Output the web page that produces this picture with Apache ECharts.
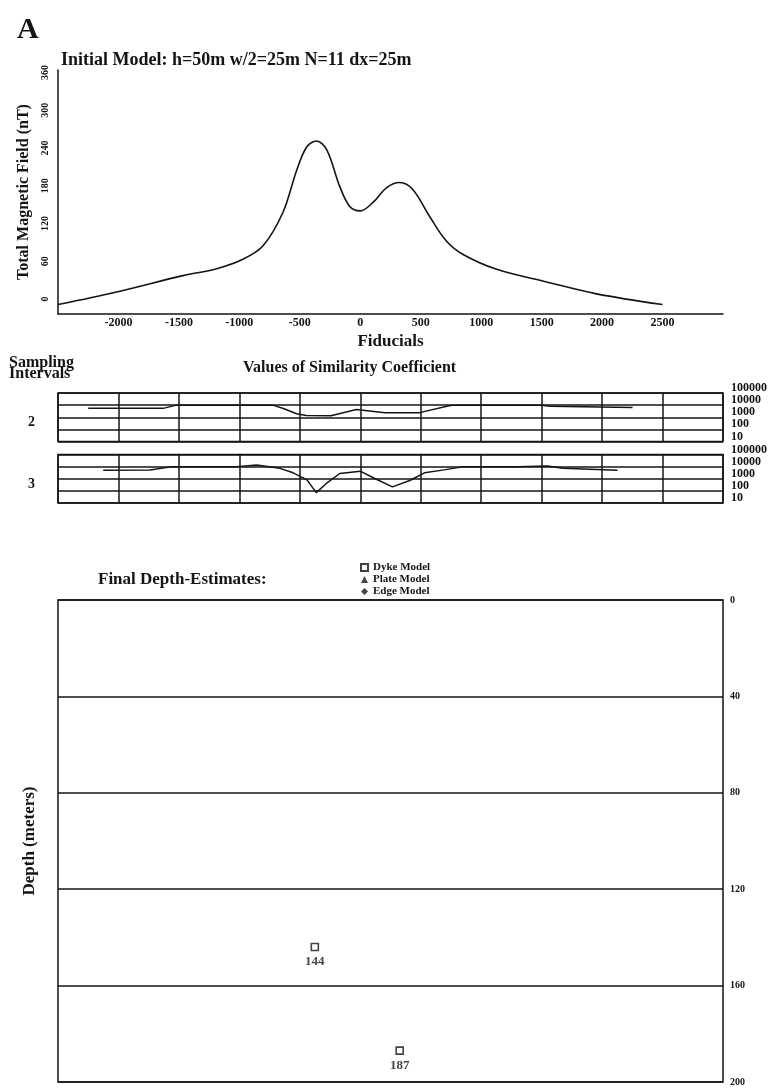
<!DOCTYPE html>
<html>
<head>
<meta charset="utf-8">
<script src="https://cdn.jsdelivr.net/npm/echarts@6/dist/echarts.min.js"></script>
<style>
html,body{margin:0;padding:0;background:#fff;}
#chart{width:775px;height:1090px;}
</style>
</head>
<body>
<div id="chart"></div>
<script>
// ---------- data ----------
const fiducialTicks = [-2000, -1500, -1000, -500, 0, 500, 1000, 1500, 2000, 2500];
const fieldTicks = [0, 60, 120, 180, 240, 300, 360];
const depthTicks = [0, 40, 80, 120, 160, 200];
const samplingIntervals = ['2', '3'];

// Initial model profile (Total Magnetic Field, nT)
const profileFiducials = [-2500, -2015, -1467, -1188, -971, -806, -641, -525, -442, -362, -277, -170, -87, 0, 103, 219, 326, 434, 574, 712, 847, 1128, 1541, 1954, 2500];
const profileField     = [-9, 11, 37, 48, 63, 84, 137, 205, 242, 251, 237, 179, 147, 140, 153, 177, 185, 174, 131, 92, 71, 47, 27, 8, -9];

// Similarity coefficient, sampling interval 2
const interval2Fiducials  = [-2250, -1630, -1520, -723, -630, -527, -445, -242, -32, 205, 491, 734, 781, 1483, 1570, 2252];
const interval2Similarity = [5400, 5400, 10000, 10000, 5000, 1950, 1400, 1350, 4400, 2400, 2400, 8900, 10000, 10000, 8000, 6500];

// Similarity coefficient, sampling interval 3
const interval3Fiducials  = [-2126, -1740, -1550, -1023, -858, -664, -555, -441, -364, -283, -170, 0, 124, 266, 409, 531, 693, 856, 1303, 1550, 1674, 2128];
const interval3Similarity = [5100, 5200, 10000, 10000, 13800, 7200, 3100, 800, 72, 390, 2700, 4200, 1000, 215, 720, 3100, 5400, 10000, 10000, 11500, 7200, 5100];

// Final depth estimates (Dyke model)
const depthFiducials = [-376, 326];
const depthEstimates = [144, 187];

// ---------- helpers ----------
const zip = (xs, ys) => xs.map((x, i) => [x, ys[i]]);
const INK = '#141414';
const FONT = 'Liberation Serif';
const plain = v => String(Math.round(v));

const chart = echarts.init(document.getElementById('chart'), null, {renderer: 'canvas'});

const xBase = {
  type: 'value', min: -2500, max: 3000, interval: 500
};

const simLabel = {
  margin: 8, showMinLabel: true, showMaxLabel: true,
  fontFamily: FONT, fontWeight: 'bold', fontSize: 12, lineHeight: 10, color: INK,
  verticalAlign: 'bottom', formatter: plain
};

const option = {
  animation: false,
  backgroundColor: '#ffffff',
  textStyle: {fontFamily: FONT, fontWeight: 'bold', color: INK},
  title: [
    {text: 'A', left: 12, top: 10, textStyle: {fontFamily: FONT, fontWeight: 'bold', fontSize: 30, color: INK}},
    {text: 'Initial Model: h=50m w/2=25m N=11 dx=25m', left: 56, top: 46, textStyle: {fontFamily: FONT, fontWeight: 'bold', fontSize: 18, color: INK}},
    {text: 'Sampling\nIntervals', left: 4, top: 352, textStyle: {fontFamily: FONT, fontWeight: 'bold', fontSize: 16, lineHeight: 11, color: INK}},
    {text: 'Values of Similarity Coefficient', left: 238, top: 355, textStyle: {fontFamily: FONT, fontWeight: 'bold', fontSize: 16, color: INK}},
    {text: samplingIntervals[0], left: 23, top: 410, textStyle: {fontFamily: FONT, fontWeight: 'bold', fontSize: 14, color: INK}},
    {text: samplingIntervals[1], left: 23, top: 472, textStyle: {fontFamily: FONT, fontWeight: 'bold', fontSize: 14, color: INK}},
    {text: 'Final Depth-Estimates:', left: 93, top: 566, textStyle: {fontFamily: FONT, fontWeight: 'bold', fontSize: 17, color: INK}}
  ],
  legend: {
    orient: 'vertical', left: 360, top: 562, padding: 0,
    itemWidth: 7, itemHeight: 7, itemGap: 1,
    textStyle: {fontFamily: FONT, fontWeight: 'bold', fontSize: 11, lineHeight: 8, color: INK},
    data: ['Dyke Model', 'Plate Model', 'Edge Model']
  },
  grid: [
    {left: 58, top: 70, width: 665, height: 244, show: false},
    {left: 58, top: 393, width: 665, height: 48.5, show: true, borderColor: INK, borderWidth: 1.5, backgroundColor: 'transparent'},
    {left: 58, top: 454.5, width: 665, height: 48.5, show: true, borderColor: INK, borderWidth: 1.5, backgroundColor: 'transparent'},
    {left: 58, top: 600, width: 665, height: 482, show: true, borderColor: INK, borderWidth: 1.5, backgroundColor: 'transparent'}
  ],
  xAxis: [
    Object.assign({}, xBase, {
      gridIndex: 0,
      name: 'Fiducials', nameLocation: 'middle', nameGap: 19,
      nameTextStyle: {fontFamily: FONT, fontWeight: 'bold', fontSize: 17, color: INK},
      axisLine: {show: true, onZero: false, lineStyle: {color: INK, width: 1.5}},
      axisTick: {show: false},
      splitLine: {show: false},
      axisLabel: {customValues: fiducialTicks, formatter: plain, margin: 3, fontFamily: FONT, fontWeight: 'bold', fontSize: 12, color: INK}
    }),
    Object.assign({}, xBase, {
      gridIndex: 1,
      axisLine: {show: false, onZero: false}, axisTick: {show: false}, axisLabel: {show: false},
      splitLine: {show: true, lineStyle: {color: INK, width: 1.5}}
    }),
    Object.assign({}, xBase, {
      gridIndex: 2,
      axisLine: {show: false, onZero: false}, axisTick: {show: false}, axisLabel: {show: false},
      splitLine: {show: true, lineStyle: {color: INK, width: 1.5}}
    }),
    Object.assign({}, xBase, {
      gridIndex: 3,
      axisLine: {show: false, onZero: false}, axisTick: {show: false}, axisLabel: {show: false},
      splitLine: {show: false}
    })
  ],
  yAxis: [
    {
      gridIndex: 0, type: 'value', min: -24, max: 364,
      name: 'Total Magnetic Field (nT)', nameLocation: 'middle', nameGap: 21,
      nameTextStyle: {fontFamily: FONT, fontWeight: 'bold', fontSize: 16, color: INK},
      axisLine: {show: true, onZero: false, lineStyle: {color: INK, width: 1.5}},
      axisTick: {show: false},
      splitLine: {show: false},
      axisLabel: {customValues: fieldTicks, formatter: plain, rotate: 90, margin: 8, fontFamily: FONT, fontWeight: 'bold', fontSize: 10, color: INK}
    },
    {
      gridIndex: 1, type: 'log', logBase: 10, min: 10, max: 100000, position: 'right',
      axisLine: {show: false, onZero: false}, axisTick: {show: false},
      splitLine: {show: true, lineStyle: {color: INK, width: 1.5}},
      axisLabel: simLabel
    },
    {
      gridIndex: 2, type: 'log', logBase: 10, min: 10, max: 100000, position: 'right',
      axisLine: {show: false, onZero: false}, axisTick: {show: false},
      splitLine: {show: true, lineStyle: {color: INK, width: 1.5}},
      axisLabel: simLabel
    },
    {
      gridIndex: 3, type: 'value', min: depthTicks[0], max: depthTicks[depthTicks.length - 1], interval: depthTicks[1] - depthTicks[0],
      inverse: true, position: 'right',
      axisLine: {show: false, onZero: false}, axisTick: {show: false},
      splitLine: {show: true, lineStyle: {color: INK, width: 1.5}},
      axisLabel: {margin: 7, formatter: plain, fontFamily: FONT, fontWeight: 'bold', fontSize: 10, color: INK}
    },
    {
      gridIndex: 3, type: 'value', min: 0, max: 200, inverse: true, position: 'left',
      name: 'Depth (meters)', nameLocation: 'middle', nameGap: 20,
      nameTextStyle: {fontFamily: FONT, fontWeight: 'bold', fontSize: 17, color: INK},
      axisLine: {show: false, onZero: false}, axisTick: {show: false}, axisLabel: {show: false}, splitLine: {show: false}
    }
  ],
  series: [
    {
      name: 'Initial Model', type: 'line', xAxisIndex: 0, yAxisIndex: 0,
      data: zip(profileFiducials, profileField),
      smooth: 0.35, showSymbol: false, silent: true,
      lineStyle: {color: INK, width: 1.6}
    },
    {
      name: 'Interval 2', type: 'line', xAxisIndex: 1, yAxisIndex: 1,
      data: zip(interval2Fiducials, interval2Similarity),
      showSymbol: false, silent: true,
      lineStyle: {color: INK, width: 1.5}
    },
    {
      name: 'Interval 3', type: 'line', xAxisIndex: 2, yAxisIndex: 2,
      data: zip(interval3Fiducials, interval3Similarity),
      showSymbol: false, silent: true,
      lineStyle: {color: INK, width: 1.5}
    },
    {
      name: 'Dyke Model', type: 'scatter', xAxisIndex: 3, yAxisIndex: 3,
      data: zip(depthFiducials, depthEstimates),
      symbol: 'rect', symbolSize: 7,
      itemStyle: {color: '#ffffff', borderColor: INK, borderWidth: 1.6},
      label: {show: true, position: 'bottom', distance: 4, formatter: p => String(p.value[1]),
        fontFamily: FONT, fontWeight: 'bold', fontSize: 13, color: INK}
    },
    {
      name: 'Plate Model', type: 'scatter', xAxisIndex: 3, yAxisIndex: 3,
      data: [], symbol: 'triangle', symbolSize: 7, itemStyle: {color: INK}
    },
    {
      name: 'Edge Model', type: 'scatter', xAxisIndex: 3, yAxisIndex: 3,
      data: [], symbol: 'diamond', symbolSize: 7, itemStyle: {color: INK}
    }
  ]
};

chart.setOption(option);
</script>
</body>
</html>
